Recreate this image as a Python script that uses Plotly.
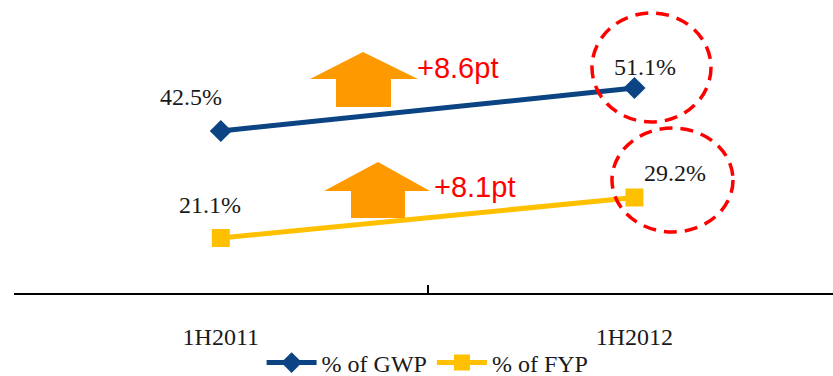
import plotly.graph_objects as go

periods = ["1H2011", "1H2012"]
gwp_share = [42.5, 51.1]
fyp_share = [21.1, 29.2]
gwp_change = "+8.6pt"
fyp_change = "+8.1pt"

W, H = 833, 376
L, R, T, B = 14, 0, 0, 83
PW, PH = W - L - R, H - T - B

def px(x):
    return (x - L) / PW

def py(y):
    return (H - B - y) / PH

NAVY = "#0B4383"
GOLD = "#FFC000"
ORANGE = "#FF9900"
RED = "#FF0000"
SERIF = "Liberation Serif, Times New Roman, serif"

fig = go.Figure()
fig.add_trace(go.Scatter(
    x=periods, y=gwp_share, name="% of GWP", mode="lines+markers",
    line=dict(color=NAVY, width=5),
    marker=dict(symbol="diamond", size=17, color=NAVY),
))
fig.add_trace(go.Scatter(
    x=periods, y=fyp_share, name="% of FYP", mode="lines+markers",
    line=dict(color=GOLD, width=5),
    marker=dict(symbol="square", size=18, color=GOLD),
))

# value labels beside each point
label_offsets = {
    ("gwp", 0): (-30, 34), ("gwp", 1): (11, 21),
    ("fyp", 0): (-11, 33), ("fyp", 1): (41, 25),
}
for key, vals in (("gwp", gwp_share), ("fyp", fyp_share)):
    for i, v in enumerate(vals):
        dx, dy = label_offsets[(key, i)]
        fig.add_annotation(
            x=periods[i], y=v, text=f"{v}%", showarrow=False,
            xshift=dx, yshift=dy, xanchor="center", yanchor="middle",
            font=dict(family=SERIF, size=24, color="#1a1a1a"),
        )

shapes = []

def up_arrow(tip, head_y, head_l, head_r, sh_l, sh_r, bottom):
    pts = [(tip[0], tip[1]), (head_r, head_y), (sh_r, head_y), (sh_r, bottom),
           (sh_l, bottom), (sh_l, head_y), (head_l, head_y)]
    d = "M " + " L ".join(f"{px(a):.5f},{py(b):.5f}" for a, b in pts) + " Z"
    return dict(type="path", path=d, xref="paper", yref="paper",
                fillcolor=ORANGE, line=dict(width=0), layer="above")

shapes.append(up_arrow((363, 52), 79, 310, 418, 336, 391, 107))
shapes.append(up_arrow((378, 162), 191, 324, 430, 351, 405, 218))

def dashed_ring(x0, y0, x1, y1):
    return dict(type="circle", xref="paper", yref="paper",
                x0=px(x0), x1=px(x1), y0=py(y1), y1=py(y0),
                line=dict(color=RED, width=3.5, dash="13px,8px"))

shapes.append(dashed_ring(592, 13, 711, 122))
shapes.append(dashed_ring(612, 128, 733, 232))
fig.update_layout(shapes=shapes)

for text, x, y in ((gwp_change, 458, 68), (fyp_change, 474, 187)):
    fig.add_annotation(
        x=px(x), y=py(y), xref="paper", yref="paper", text=text,
        showarrow=False, xanchor="center", yanchor="middle",
        font=dict(family="Liberation Sans, Arial, sans-serif", size=29, color=RED),
    )

fig.update_xaxes(
    type="category", range=[-0.5, 1.48],
    showline=True, linecolor="black", linewidth=2,
    ticks="inside", tickson="boundaries", ticklen=8, tickwidth=1.5,
    tickcolor="black", showgrid=False, zeroline=False,
    tickfont=dict(family=SERIF, size=24, color="#1a1a1a"),
    ticklabelstandoff=21,
)
fig.update_yaxes(range=[10.1, 68.7], visible=False, showgrid=False)

fig.update_layout(
    width=W, height=H,
    margin=dict(l=L, r=R, t=T, b=B, autoexpand=False),
    paper_bgcolor="white", plot_bgcolor="white",
    showlegend=True,
    legend=dict(
        orientation="h", x=0.505, xanchor="center", y=py(363), yanchor="middle",
        font=dict(family=SERIF, size=24, color="#1a1a1a"),
        itemwidth=50, traceorder="normal", bgcolor="rgba(0,0,0,0)",
    ),
)

fig.write_html("out.html")
